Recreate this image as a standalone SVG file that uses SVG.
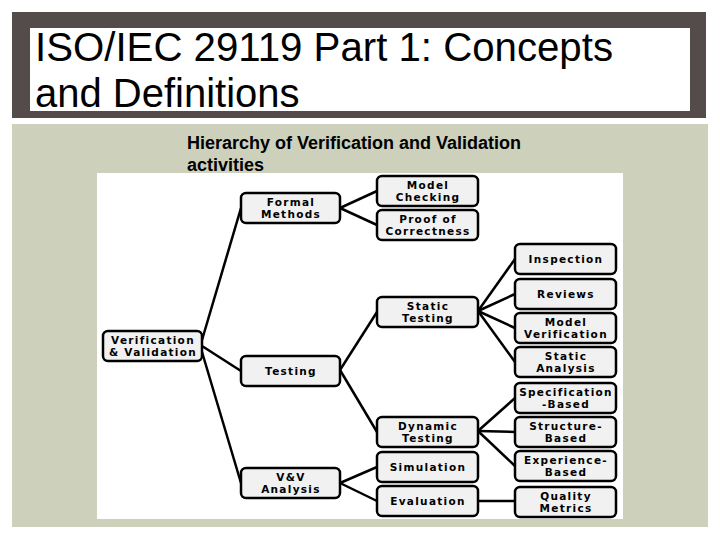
<svg xmlns="http://www.w3.org/2000/svg" width="720" height="540" viewBox="0 0 720 540">
<style>
.node rect{fill:#f1f1f1;stroke:#000;stroke-width:2.5}
.node text{font-family:"DejaVu Sans",Verdana,sans-serif;font-weight:bold;font-size:10.5px;letter-spacing:1.3px;text-anchor:middle;fill:#000}
#connectors path{stroke:#000;stroke-width:2.5;fill:none}
</style>
<rect x="0" y="0" width="720" height="540" fill="#ffffff"/>
<rect x="12" y="12" width="694" height="106" fill="#534c4a"/>
<rect x="30" y="28" width="660" height="83" fill="#ffffff"/>
<text font-family="'Liberation Sans',Arial,sans-serif" font-size="40" fill="#000"><tspan x="35" y="61" textLength="578" lengthAdjust="spacingAndGlyphs">ISO/IEC 29119 Part 1: Concepts</tspan><tspan x="35" y="107">and Definitions</tspan></text>
<rect x="12" y="124" width="696" height="403" fill="#cdd1bc"/>
<text font-family="'Liberation Sans',Arial,sans-serif" font-size="18" font-weight="bold" fill="#000"><tspan x="187" y="149">Hierarchy of Verification and Validation</tspan><tspan x="187" y="171">activities</tspan></text>
<rect x="97" y="173" width="526" height="346" fill="#ffffff"/>
<g id="connectors">
<path d="M202,340 L241,208"/>
<path d="M202,346 L241,371"/>
<path d="M202,352 L241,483"/>
<path d="M340,208 L377,191"/>
<path d="M340,208 L377,225"/>
<path d="M340,370 L377,312"/>
<path d="M340,370 L377,432"/>
<path d="M340,483 L377,467"/>
<path d="M340,483 L377,501"/>
<path d="M478,311 L515,259"/>
<path d="M478,311 L515,294"/>
<path d="M478,311 L515,328"/>
<path d="M478,311 L515,362"/>
<path d="M478,431 L515,398"/>
<path d="M478,431 L515,432"/>
<path d="M478,431 L515,466"/>
<path d="M478,501 L515,501"/>
</g>
<g id="vv" class="node"><rect x="103" y="331" width="99" height="30" rx="5"/><text x="153" y="343.5">Verification</text><text x="153" y="356">&amp; Validation</text></g>
<g id="formal" class="node"><rect x="241" y="193" width="99" height="30" rx="5"/><text x="291" y="205.5">Formal</text><text x="291" y="218">Methods</text></g>
<g id="testing" class="node"><rect x="241" y="356" width="99" height="30" rx="5"/><text x="291" y="375">Testing</text></g>
<g id="vvanalysis" class="node"><rect x="241" y="468" width="99" height="30" rx="5"/><text x="291" y="480.5">V&amp;V</text><text x="291" y="493">Analysis</text></g>
<g id="modelchecking" class="node"><rect x="377" y="176" width="101" height="30" rx="5"/><text x="428" y="188.5">Model</text><text x="428" y="201">Checking</text></g>
<g id="proof" class="node"><rect x="377" y="210" width="101" height="30" rx="5"/><text x="428" y="222.5">Proof of</text><text x="428" y="235">Correctness</text></g>
<g id="statictesting" class="node"><rect x="377" y="297" width="101" height="30" rx="5"/><text x="428" y="309.5">Static</text><text x="428" y="322">Testing</text></g>
<g id="dynamictesting" class="node"><rect x="377" y="417" width="101" height="30" rx="5"/><text x="428" y="429.5">Dynamic</text><text x="428" y="442">Testing</text></g>
<g id="simulation" class="node"><rect x="377" y="452" width="101" height="30" rx="5"/><text x="428" y="471">Simulation</text></g>
<g id="evaluation" class="node"><rect x="377" y="486" width="101" height="30" rx="5"/><text x="428" y="505">Evaluation</text></g>
<g id="inspection" class="node"><rect x="515" y="244" width="101" height="30" rx="5"/><text x="566" y="263">Inspection</text></g>
<g id="reviews" class="node"><rect x="515" y="279" width="101" height="30" rx="5"/><text x="566" y="298">Reviews</text></g>
<g id="modelverification" class="node"><rect x="515" y="313" width="101" height="30" rx="5"/><text x="566" y="325.5">Model</text><text x="566" y="338">Verification</text></g>
<g id="staticanalysis" class="node"><rect x="515" y="347" width="101" height="30" rx="5"/><text x="566" y="359.5">Static</text><text x="566" y="372">Analysis</text></g>
<g id="specbased" class="node"><rect x="515" y="383" width="101" height="30" rx="5"/><text x="566" y="395.5">Specification</text><text x="566" y="408">-Based</text></g>
<g id="structurebased" class="node"><rect x="515" y="417" width="101" height="30" rx="5"/><text x="566" y="429.5">Structure-</text><text x="566" y="442">Based</text></g>
<g id="experiencebased" class="node"><rect x="515" y="451" width="101" height="30" rx="5"/><text x="566" y="463.5">Experience-</text><text x="566" y="476">Based</text></g>
<g id="qualitymetrics" class="node"><rect x="515" y="487" width="101" height="30" rx="5"/><text x="566" y="499.5">Quality</text><text x="566" y="512">Metrics</text></g>
</svg>
